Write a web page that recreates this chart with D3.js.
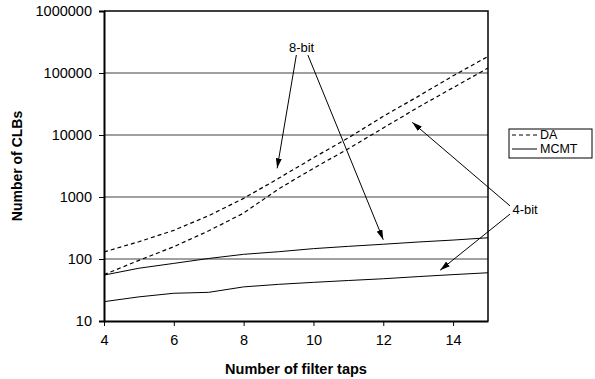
<!DOCTYPE html>
<html><head><meta charset="utf-8">
<script src="https://cdn.jsdelivr.net/npm/d3@7"></script>
<style>body{margin:0;background:#fff}svg{display:block}text{font-family:"Liberation Sans",Arial,sans-serif}</style>
</head><body><svg id="c" width="595" height="379"></svg>
<script>
const taps = [4,5,6,7,8,9,10,11,12,13,14,15];
const da8 = [130,190,290,500,950,2000,4300,9000,20000,42000,90000,185000];
const da4 = [56,95,158,285,550,1350,2900,6000,13000,28000,58000,120000];
const mcmt8 = [55,71,85,102,119,131,147,160,173,188,202,220];
const mcmt4 = [20.5,24.5,28,29,35.5,39,42,45,48,52,56,60];
const xTicks = [4,6,8,10,12,14];
const yTicks = [10,100,1000,10000,100000,1000000];
const series = [
  {name:"DA 8-bit", values:da8, dashed:true},
  {name:"DA 4-bit", values:da4, dashed:true},
  {name:"MCMT 8-bit", values:mcmt8, dashed:false},
  {name:"MCMT 4-bit", values:mcmt4, dashed:false}
];
const legendItems = [{label:"DA", dashed:true},{label:"MCMT", dashed:false}];
// annotations in data units: text anchor and arrows [fromTaps, fromVal, toTaps, toVal]
const labels = [{text:"8-bit", t:9.66, v:260000}, {text:"4-bit", t:15.7, v:620}];
const arrows = [
  [9.51,195000, 8.96,2900],
  [9.84,195000, 12.0,205],
  [15.63,720, 12.83,16000],
  [15.63,530, 13.63,66]
];

const svg = d3.select("#c");
const x = d3.scaleLinear().domain([4,15]).range([104,488]);
const y = d3.scaleLog().domain([10,1e6]).range([321,11]);

// gridlines
svg.append("g").selectAll("line").data(yTicks.slice(1,-1)).join("line")
  .attr("x1",x(4)).attr("x2",x(15)).attr("y1",d=>y(d)).attr("y2",d=>y(d))
  .attr("stroke","#808080").attr("stroke-width",1.3);

// frame top/right
svg.append("path").attr("d",`M${x(4)},${y(1e6)}H${x(15)}V${y(10)}`)
  .attr("fill","none").attr("stroke","#000").attr("stroke-width",1.5);

// axes
const ya = d3.axisLeft(y).tickValues(yTicks).tickFormat(d3.format("d")).tickSize(5).tickPadding(7);
const gy = svg.append("g").attr("transform",`translate(${x(4)},0)`).call(ya);
gy.select(".domain").attr("stroke","#000").attr("stroke-width",2);
gy.selectAll(".tick line").attr("stroke","#000");
gy.selectAll("text").attr("font-size","14.5px").attr("fill","#000").attr("font-family","Liberation Sans, Arial, sans-serif");

const xa = d3.axisBottom(x).tickValues(xTicks).tickFormat(d3.format("d")).tickSize(5).tickPadding(9).tickSizeOuter(0);
const gx = svg.append("g").attr("transform",`translate(0,${y(10)})`).call(xa);
gx.select(".domain").attr("stroke","#000").attr("stroke-width",2);
gx.selectAll(".tick line").attr("stroke","#000");
gx.selectAll("text").attr("font-size","14.5px").attr("fill","#000").attr("font-family","Liberation Sans, Arial, sans-serif");

// lines
const line = d3.line().x((d,i)=>x(taps[i])).y(d=>y(d));
svg.append("g").selectAll("path").data(series).join("path")
  .attr("d",d=>line(d.values)).attr("fill","none").attr("stroke","#000")
  .attr("stroke-width",d=>d.dashed?1.2:1).attr("stroke-dasharray",d=>d.dashed?"4,3":null);

// arrows
svg.append("defs").append("marker").attr("id","ah").attr("viewBox","0 0 10 6")
  .attr("refX",10).attr("refY",3).attr("markerWidth",10).attr("markerHeight",6)
  .attr("markerUnits","userSpaceOnUse").attr("orient","auto")
  .append("path").attr("d","M0,0L10,3L0,6Z").attr("fill","#000");
svg.append("g").selectAll("line").data(arrows).join("line")
  .attr("x1",d=>x(d[0])).attr("y1",d=>y(d[1])).attr("x2",d=>x(d[2])).attr("y2",d=>y(d[3]))
  .attr("stroke","#000").attr("stroke-width",1).attr("marker-end","url(#ah)");
svg.append("g").selectAll("text").data(labels).join("text")
  .attr("x",d=>x(d.t)).attr("y",d=>y(d.v)).attr("dy","0.35em")
  .attr("text-anchor",(d,i)=>i===0?"middle":"start").attr("font-size","13px").text(d=>d.text);

// axis titles
svg.append("text").attr("x",(x(4)+x(15))/2).attr("y",374).attr("text-anchor","middle")
  .attr("font-weight","bold").attr("font-size","14.5px").text("Number of filter taps");
svg.append("text").attr("transform",`translate(22,${(y(10)+y(1e6))/2}) rotate(-90)`)
  .attr("text-anchor","middle").attr("font-weight","bold").attr("font-size","14px").text("Number of CLBs");

// legend
const lg = svg.append("g").attr("transform","translate(509,129)");
lg.append("rect").attr("width",83).attr("height",29).attr("fill","#fff").attr("stroke","#000").attr("stroke-width",1);
const li = lg.selectAll("g").data(legendItems).join("g").attr("transform",(d,i)=>`translate(0,${6+i*14})`);
li.append("line").attr("x1",3).attr("x2",28).attr("y1",0).attr("y2",0).attr("stroke","#000")
  .attr("stroke-dasharray",d=>d.dashed?"4,3":null);
li.append("text").attr("x",31).attr("y",0).attr("dy","0.35em").attr("font-size","12.5px").text(d=>d.label);
</script></body></html>
